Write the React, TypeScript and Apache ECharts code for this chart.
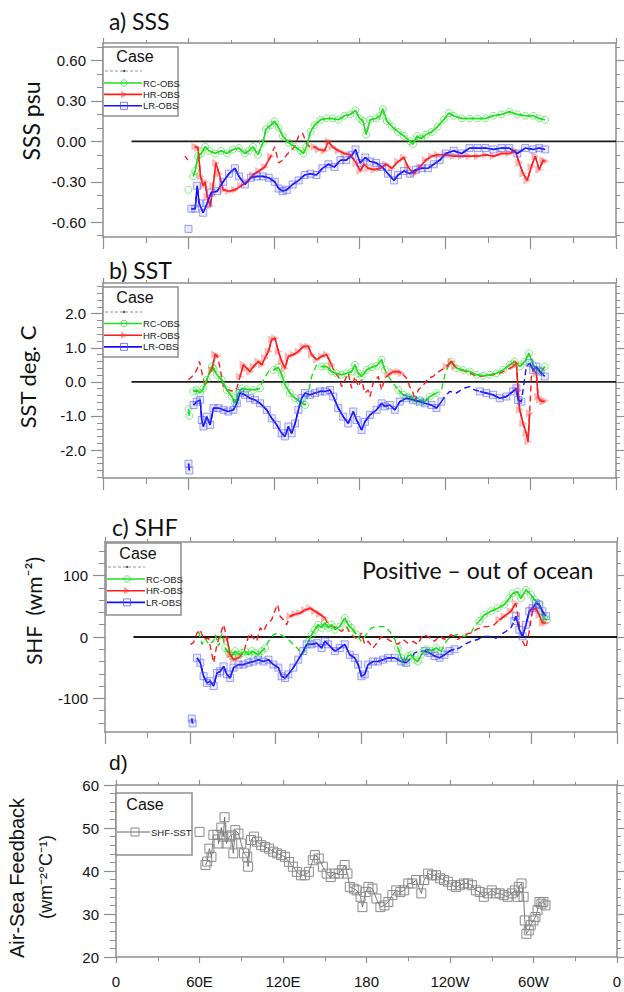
import React, { useEffect, useRef } from 'react';
import * as echarts from 'echarts';

// ---------- shared axis data ----------
const LON_TICKS = [0, 60, 120, 180, 240, 300, 360];
const LON_LABELS = ['0', '60E', '120E', '180', '120W', '60W', '0'];
const ZERO_LINE = [[20, 0], [360, 0]];

// ---------- a) SSS (psu) ----------
const sssRC = [[60,-0.36],[61,null],[63.3,-0.26],[64.7,-0.22],[66.7,-0.11],[68.9,-0.09],[71.7,-0.04],[74.5,-0.07],[78.7,-0.09],[82.9,-0.07],[87,-0.09],[91.2,-0.06],[95.4,-0.05],[99.6,-0.09],[102.4,-0.07],[105.2,-0.04],[108.8,-0.1],[112.2,-0.01],[114.4,0.09],[117.7,0.12],[120.5,0.15],[123.3,0.1],[126.1,0.04],[130.3,-0.01],[134.5,-0.04],[138.7,-0.07],[140.6,-0.09],[142.8,-0.04],[145.6,0.07],[148.4,0.12],[152.6,0.16],[156.8,0.17],[161,0.17],[165.2,0.16],[169.4,0.19],[173.5,0.2],[177.2,0.23],[180,0.17],[182.5,0.15],[184.7,0.05],[187.5,0.16],[191.7,0.17],[194.5,0.19],[196.4,0.24],[199.2,0.15],[202.8,0.11],[207,0.07],[211.2,0.04],[215.4,0],[217.6,-0.02],[220.4,0.04],[223.2,0.02],[226.5,0.05],[230.7,0.07],[234.9,0.11],[239.1,0.16],[242.7,0.21],[246.1,0.19],[251.7,0.17],[257.2,0.17],[262.8,0.17],[268.4,0.17],[274,0.19],[279.6,0.2],[285.1,0.22],[290.7,0.2],[296.3,0.19],[301.9,0.19],[306.1,0.17],[310.3,0.16]];
const sssHR = [[57.5,-0.11],[59.5,-0.14],[61,null],[64.7,-0.04],[66.7,-0.05],[68.4,-0.26],[70.3,-0.33],[71.7,-0.3],[73.1,-0.41],[75.3,-0.48],[77.3,-0.33],[79.2,-0.16],[81.5,-0.24],[84.3,-0.36],[88.4,-0.37],[92.6,-0.36],[96.8,-0.33],[101,-0.3],[105.2,-0.25],[109.4,-0.22],[113.6,-0.19],[117.7,-0.11],[120.5,-0.04],[123.3,-0.16],[126.1,-0.14],[128.9,-0.1],[131.7,-0.07],[134.5,-0.04],[137.3,0.04],[140,0.06],[142.8,-0.01],[145.6,-0.05],[148.4,-0.04],[151.2,-0.06],[155.4,-0.07],[158.2,0],[161,-0.04],[165.2,-0.07],[169.4,-0.09],[173.5,-0.1],[177.7,-0.16],[180.5,-0.22],[183.3,-0.17],[186.1,-0.2],[190.3,-0.21],[194.5,-0.2],[198.6,-0.17],[202.8,-0.2],[207,-0.15],[211.2,-0.12],[214,-0.19],[218.2,-0.24],[222.4,-0.19],[226.5,-0.14],[230.7,-0.11],[234.9,-0.1],[240.5,-0.1],[246.1,-0.11],[251.7,-0.11],[257.2,-0.11],[262.8,-0.11],[268.4,-0.1],[274,-0.11],[279.6,-0.09],[285.1,-0.09],[289.3,-0.07],[292.1,-0.16],[294.9,-0.24],[297.7,-0.29],[300.5,-0.19],[303.3,-0.11],[306.1,-0.21],[308.9,-0.14],[310.3,-0.15]];
const sssLR = [[60,-0.65],[61,null],[62,-0.5],[64.7,-0.5],[66.1,-0.33],[67.5,-0.46],[70.3,-0.53],[73.1,-0.46],[75.9,-0.38],[80.1,-0.37],[84.3,-0.3],[88.4,-0.24],[92.6,-0.2],[95.4,-0.26],[99.6,-0.32],[103.8,-0.27],[108,-0.26],[112.2,-0.26],[116.3,-0.27],[120.5,-0.3],[123.3,-0.35],[126.1,-0.37],[128.9,-0.36],[133.1,-0.32],[137.3,-0.29],[141.5,-0.25],[145.6,-0.24],[149.8,-0.25],[154,-0.2],[158.2,-0.17],[162.4,-0.19],[166.6,-0.14],[170.7,-0.14],[174.9,-0.1],[177.2,-0.06],[180.5,-0.16],[184.1,-0.12],[187.5,-0.15],[191.7,-0.16],[195.9,-0.19],[200,-0.24],[204.2,-0.29],[207,-0.25],[211.2,-0.22],[215.4,-0.24],[219.6,-0.21],[223.8,-0.2],[228,-0.2],[232.1,-0.17],[236.3,-0.14],[240.5,-0.09],[246.1,-0.07],[251.7,-0.09],[257.2,-0.05],[262.8,-0.05],[268.4,-0.05],[274,-0.06],[279.6,-0.05],[285.1,-0.05],[290.7,-0.09],[296.3,-0.05],[301.9,-0.06],[306.1,-0.05],[310.3,-0.06]];
const sssRCSolid = [[55, 320]];
const sssHRSolid = [[63, 119], [146, 320]];
const sssLRSolid = [[55, 320]];

// ---------- b) SST (deg C) ----------
const sstRC = [[60,-0.8],[60.6,-1.0],[61.5,null],[63.5,-0.28],[65.8,-0.24],[68.2,-0.33],[70.5,-0.19],[72.8,0.06],[76.4,0.45],[77.5,0.4],[79.9,0.21],[83.4,0.06],[86.9,-0.24],[90.4,-0.43],[92.7,-0.63],[95,-0.33],[97.4,-0.19],[100.9,-0.22],[105.6,-0.24],[110.2,-0.19],[112.6,0.06],[116.1,0.3],[119.6,0.35],[123.1,0.43],[125.4,0.21],[127.7,-0.09],[131.2,-0.33],[134.8,-0.48],[138.3,-0.58],[141.8,-0.68],[144.1,-0.33],[146.4,0.16],[149.9,0.5],[153.4,0.45],[156.9,0.45],[160.4,0.3],[164,0.25],[167.5,0.21],[171,0.25],[174.5,0.3],[176.8,0.5],[179.1,0.25],[181.5,0.16],[185,0.35],[188.5,0.43],[192,0.47],[195.5,0.65],[197.8,0.35],[200.2,0.16],[203.7,-0.04],[207.2,-0.24],[210.7,-0.38],[214.2,-0.43],[217.7,-0.48],[220,-0.58],[222.4,-0.53],[225.9,-0.58],[229.4,-0.43],[234,-0.33],[237.5,-0.24],[239.9,0.21],[242.2,0.45],[244.5,0.6],[248,0.4],[252.7,0.35],[257.4,0.3],[262.1,0.21],[266.7,0.18],[271.4,0.21],[276.1,0.25],[280.8,0.35],[285.4,0.5],[288.9,0.6],[292.4,0.45],[296,0.6],[299,0.84],[301.8,0.5],[305.3,0.35],[307.6,0.3],[310,0.45]];
const sstHR = [[60,0.06],[63.5,0.2],[65.8,0.35],[67.7,0.6],[69.3,0.3],[71.7,-0.14],[74,0.2],[76.4,0.35],[78.7,0.8],[80.3,0.75],[82.2,0.4],[84.5,-0.14],[88,-0.24],[91.5,-0.28],[93.9,-0.19],[96.2,0.16],[98.5,0.5],[100.9,0.4],[103.2,0.3],[105.6,0.45],[109,0.6],[111.4,0.5],[113.7,0.7],[116.1,0.9],[118.4,1.24],[120.7,1.28],[123.1,0.89],[125.4,0.6],[127.7,0.4],[130.1,0.75],[133.6,0.8],[137.1,0.89],[140.6,1.04],[144.1,1.04],[146.4,0.8],[149.9,0.65],[153.4,0.75],[156.9,0.8],[160.4,0.5],[162.8,0.25],[165.1,0.16],[167.5,-0.14],[169.8,0.06],[172.1,0.25],[174.5,-0.19],[176.8,0.16],[179.1,-0.14],[181.5,0.06],[183.8,-0.33],[186.1,-0.24],[187.3,-0.43],[189.6,-0.04],[193.2,0.16],[195.5,-0.24],[197.8,0.11],[200.2,0.21],[203.7,0.3],[207.2,0.3],[209.5,0.25],[213,0.11],[215.3,-0.14],[217.7,-0.33],[218.8,-0.58],[221.2,-0.24],[223.5,-0.14],[225.9,-0.04],[228.2,0.11],[231.7,0.16],[234,0.25],[237.5,0.35],[241,0.45],[244.5,0.6],[246.9,0.45],[250.4,0.35],[255.1,0.3],[259.7,0.21],[264.4,0.16],[269.1,0.18],[273.7,0.21],[278.4,0.25],[283.1,0.35],[287.8,0.45],[290.1,0.55],[291.3,-0.24],[292.4,-0.82],[294.8,-1.22],[297.1,-1.51],[298.3,-1.75],[299.4,-0.92],[300.6,0.16],[301.8,0.35],[304.1,0.25],[305.3,-0.43],[306.5,-0.53],[308.8,-0.58],[310,-0.55]];
const sstLR = [[60,-2.4],[60.6,-2.6],[61.5,null],[63.5,-0.68],[65.8,-0.58],[68.2,-0.53],[69.3,-1.12],[70.5,-1.31],[72.8,-1.02],[75.2,-1.26],[77.5,-0.77],[81,-0.77],[84.5,-0.82],[88,-0.87],[91.5,-0.82],[93.9,-0.63],[96.2,-0.33],[99.7,-0.38],[103.2,-0.48],[106.7,-0.53],[110.2,-0.63],[114.9,-0.82],[118.4,-1.07],[121.9,-1.26],[125.4,-1.51],[127.7,-1.6],[130.1,-1.31],[132.4,-1.51],[134.8,-1.22],[137.1,-0.82],[139.4,-0.48],[141.8,-0.33],[145.3,-0.38],[148.8,-0.33],[152.3,-0.28],[155.8,-0.28],[159.3,-0.24],[161.6,-0.43],[165.1,-0.77],[168.6,-1.02],[172.1,-1.22],[175.6,-0.87],[178,-1.12],[181.5,-1.41],[183.8,-1.17],[187.3,-0.97],[192,-0.82],[195.5,-0.63],[197.8,-0.72],[201.3,-0.68],[204.8,-0.82],[208.3,-0.58],[213,-0.48],[217.7,-0.53],[222.4,-0.58],[225.9,-0.63],[230.5,-0.68],[234,-0.77],[237.5,-0.58],[239.9,-0.43],[243.3,-0.28],[248,-0.33],[252.7,-0.19],[257.4,-0.14],[260.9,-0.24],[264.4,-0.28],[269.1,-0.33],[273.7,-0.38],[278.4,-0.48],[283.1,-0.43],[287.8,-0.28],[290.1,-0.19],[291.3,-0.53],[293.6,-0.58],[297.1,0.45],[299.4,0.55],[301.8,0.35],[304.1,0.45],[306.5,0.3],[310,0.16]];
const sstRCSolid = [[55, 112], [118, 144], [150, 200], [207, 237], [243, 320]];
const sstHRSolid = [[76, 82], [96, 162], [200, 212], [238, 248], [286, 300], [304, 320]];
const sstLRSolid = [[55, 238], [262, 294], [299, 320]];

// ---------- c) SHF (W m-2) ----------
const shfRC = [[65.8,9],[68.2,-12],[70.5,-2],[72.8,-12],[76.4,-7],[77.5,4],[79.9,-15],[82.2,6],[84.5,-18],[86.9,-26],[89.2,-31],[91.5,-23],[93.9,-29],[96.2,-26],[98.5,-23],[100.9,-29],[103.2,-23],[105.6,-26],[107.9,-29],[110.2,-23],[112.6,-18],[114.9,-7],[118.4,4],[121.9,6.5],[125.4,1],[128.9,-4],[132.4,-12],[135.9,-20],[138.3,-29],[140.6,-23],[143,-7],[145.3,4],[147.6,12],[149.9,20],[152.3,15],[154.6,23],[156.9,15],[159.3,20],[161.6,12],[165.1,17],[168.6,31],[171,20],[173.3,15],[176.8,4],[180.3,-7],[183.8,4],[187.3,15],[192,17],[196.7,17],[200.2,9],[203.7,-4],[206,-18],[208.3,-34],[210.7,-42],[213,-31],[215.3,-29],[217.7,-37],[220,-40],[222.4,-29],[225.9,-20],[229.4,-23],[232.9,-18],[236.4,-23],[239.9,-7],[243.4,1],[248,4],[252.7,1],[257.4,6.5],[259.7,17],[263.2,26],[266.7,36],[271.4,42],[276.1,47],[280.8,53],[284.3,63],[286.6,71],[290.1,74],[292.4,63],[296,77],[299.4,69],[301.8,61],[305.3,53],[308.8,31],[310.7,28]];
const shfHR = [[60,-12],[62.3,-9],[64.7,6.5],[67,12],[69.3,-4],[72.8,-2],[76.4,-42],[78.7,-12],[81,4],[83.4,20],[85.7,-2],[88,-29],[90.4,-37],[93.9,-34],[97.4,-26],[99.7,-7],[102,6.5],[104.4,-2],[106.7,-7],[109.1,15],[111.4,9],[113.7,20],[117.2,28],[119.6,44],[121.4,53],[123.1,34],[125.4,28],[127.7,20],[130.1,34],[133.6,37],[137.1,39],[140.6,44],[144.1,47],[147.6,42],[151.1,37],[154.6,31],[156.9,20],[160.4,17],[162.8,15],[166.3,9],[169.8,17],[172.1,6.5],[174.5,1],[178,-4],[180.3,6.5],[182.6,-12],[185,-7],[188.5,-18],[192,-7],[194.3,1],[197.8,-2],[201.3,-7],[206,-12],[209.5,-4],[213,-10],[216.5,-7],[220,-12],[223.5,4],[226.9,1],[231.7,-7],[235.2,1],[238.7,-4],[243.4,4],[248,-4],[252.7,4],[257.4,6.5],[260.9,12],[265.6,17],[269.1,17],[273.7,20],[277.2,28],[280.8,34],[285.4,42],[288.9,55],[291.3,20],[293.6,-7],[296,-18],[298.3,9],[300.6,44],[303,47],[305.3,36],[307.6,23],[310,23]];
const shfLR = [[61,-133],[61.6,-141],[62.5,null],[64.7,-34],[67,-42],[69.3,-64],[71.7,-75],[74,-72],[76.4,-80],[78.7,-59],[81,-56],[83.4,-48],[85.7,-61],[88,-67],[90.4,-50],[93.9,-45],[97.4,-45],[100.9,-42],[104.4,-40],[107.9,-37],[111.4,-40],[114.9,-37],[118.4,-45],[121.9,-50],[124.2,-64],[126.6,-67],[128.9,-61],[132.4,-50],[135.9,-37],[139.4,-23],[141.8,-12],[145.3,-12],[148.8,-10],[152.3,-18],[154.6,-7],[156.9,-12],[161.6,-23],[165.1,-18],[168.6,-12],[172.1,-29],[175.6,-34],[178,-45],[180.3,-64],[182.6,-61],[185,-45],[188.5,-40],[192,-40],[195.5,-37],[199,-34],[203.7,-34],[208.3,-40],[211.8,-42],[215.3,-34],[217.7,-26],[221.2,-23],[224.7,-23],[228.2,-26],[231.7,-31],[235.2,-34],[238.7,-29],[242.2,-23],[245.7,-20],[249.2,-18],[252.7,-12],[257.4,-7],[262.1,-4],[266.7,1],[271.4,1],[274.9,-2],[278.4,4],[281.9,9],[285.4,15],[287.8,26],[288.9,34],[291.3,12],[293.6,1],[296,20],[298.3,42],[300.6,47],[303,55],[305.3,53],[307.6,42],[310,34]];
const shfRCSolid = [[84, 113], [143, 178], [206, 237], [260, 320]];
const shfHRSolid = [[85, 97], [129, 156], [277, 290], [300, 320]];
const shfLRSolid = [[55, 214], [222, 247], [287, 320]];

// ---------- d) Air-sea feedback ----------
const feedback = [[60,49.1],[62,null],[64.3,41.4],[65.5,42.2],[67.1,45.2],[68.6,43.3],[70,48.4],[72.9,48.4],[73.7,46.4],[75.7,50.1],[77.1,48],[78,52.5],[79.4,46.4],[81.4,48],[82.9,48.3],[84.3,44.1],[85.7,49.5],[88,48.7],[90,46.4],[92,44.1],[94.3,43.3],[94.9,41],[97.1,47.2],[99.1,48],[101.4,46.8],[104.3,46],[107.1,45.6],[110,45.2],[112.9,44.5],[115.7,44.1],[118.6,43.7],[121.4,43.3],[124.3,42.1],[127.1,41],[130,39.8],[132.9,39],[135.7,39],[138.6,39.8],[141.4,42.5],[142.9,43.7],[145.7,42.9],[148.6,41],[151.4,39.4],[154.3,38.6],[157.1,39.4],[160,39.4],[162.3,40.2],[164.3,41.4],[166.3,39.4],[168,36.3],[170.9,35.9],[172.9,35.5],[175.7,34],[177.1,31.6],[179.4,35.1],[181.4,36.3],[184.3,35.9],[187.1,33.6],[190,31.6],[192.9,32],[195.7,32.8],[198.6,34.4],[201.4,35.5],[204.3,35.1],[207.1,35.5],[210,37.1],[212.9,37.1],[215.7,37.9],[219.4,34.8],[221.4,37.9],[224.3,39.4],[227.1,39],[230,39],[232.9,38.3],[235.7,37.9],[238.6,37.5],[241.4,36.7],[244.3,36.3],[247.1,36.7],[250,37.1],[252.9,37.1],[255.7,36.7],[258.6,35.5],[261.4,35.1],[264.3,34],[267.1,34.8],[270,35.5],[272.9,34.8],[275.7,34.8],[278.6,34.4],[281.4,34],[284.3,34.8],[286.6,35.5],[288.6,34],[289.4,36.3],[291.4,37.1],[292.9,34],[293.7,28.5],[294.9,25.4],[296.6,26.2],[298,27.4],[300,28.5],[301.4,29.3],[302.9,30.9],[304.3,32.8],[305.7,32.4],[307.1,32.8],[308.6,32]];

// ---------- y tick values ----------
const sssMajor = [-0.6, -0.3, 0, 0.3, 0.6];
const sssMinor = [-0.7, -0.5, -0.4, -0.2, -0.1, 0.1, 0.2, 0.4, 0.5, 0.7];
const sstMajor = [-2, -1, 0, 1, 2];
const sstMinor = [-2.8, -2.6, -2.4, -2.2, -1.8, -1.6, -1.4, -1.2, -0.8, -0.6, -0.4, -0.2, 0.2, 0.4, 0.6, 0.8, 1.2, 1.4, 1.6, 1.8, 2.2, 2.4, 2.6, 2.8];
const shfMajor = [-100, 0, 100];
const shfMinor = [-140, -120, -80, -60, -40, -20, 20, 40, 60, 80, 120, 140];
const fbMajor = [20, 30, 40, 50, 60];
const fbMinor = [22, 24, 26, 28, 32, 34, 36, 38, 42, 44, 46, 48, 52, 54, 56, 58];

const CASE_LABELS = ['RC-OBS', 'HR-OBS', 'LR-OBS'];
const GREEN = '#1fe01f';
const RED = '#ff1c1c';
const BLUE = '#1010ff';
const GRAY = '#8e8e8e';
const NUM_FONT = '"Liberation Sans", Arial, Helvetica, sans-serif';
const TITLE_FONT = 'Lato, "Open Sans", sans-serif';

const MARK = {
  green: { symbol: 'circle', symbolSize: 7, itemStyle: { color: 'rgba(0,0,0,0)', borderColor: 'rgba(30,220,30,0.55)', borderWidth: 1 } },
  red: { symbol: 'triangle', symbolSize: 7, symbolRotate: -90, itemStyle: { color: 'rgba(255,50,50,0.32)', borderColor: 'rgba(255,60,60,0.35)', borderWidth: 0.5 } },
  blue: { symbol: 'rect', symbolSize: 7, itemStyle: { color: 'rgba(90,90,255,0.12)', borderColor: 'rgba(70,70,255,0.5)', borderWidth: 1 } },
};

function inRanges(x, ranges) {
  return ranges.some(([a, b]) => x >= a && x <= b);
}

function buildAxes(gridIndex, cfg, xs, ys) {
  const xMain = xs.length;
  xs.push({
    type: 'value', gridIndex, min: 0, max: 360, interval: 60, position: 'bottom',
    axisLine: { show: true, onZero: false, lineStyle: { color: GRAY, width: 1.5 } },
    axisTick: { show: true, inside: false, length: cfg.xTick, lineStyle: { color: GRAY, width: 1.2 } },
    minorTick: { show: true, splitNumber: 2, length: cfg.xMinor, lineStyle: { color: GRAY, width: 1 } },
    axisLabel: {
      show: cfg.xLabels, margin: 17, fontSize: 15, color: '#111', fontFamily: NUM_FONT,
      formatter: (v) => { const i = LON_TICKS.indexOf(v); return i >= 0 ? LON_LABELS[i] : ''; },
    },
    splitLine: { show: false }, minorSplitLine: { show: false },
  });
  xs.push({
    type: 'value', gridIndex, min: 0, max: 360, interval: 60, position: 'top',
    axisLine: { show: true, onZero: false, lineStyle: { color: GRAY, width: 1.5 } },
    axisTick: { show: true, inside: false, length: 5, lineStyle: { color: GRAY, width: 1.2 } },
    minorTick: { show: true, splitNumber: 2, length: 3, lineStyle: { color: GRAY, width: 1 } },
    axisLabel: { show: false }, splitLine: { show: false }, minorSplitLine: { show: false },
  });
  const yMain = ys.length;
  const base = { type: 'value', gridIndex, min: cfg.min, max: cfg.max, splitLine: { show: false } };
  ys.push({
    ...base, position: 'left',
    axisLine: { show: true, onZero: false, lineStyle: { color: GRAY, width: 1.5 } },
    axisTick: { show: true, inside: false, customValues: cfg.major, length: 12, lineStyle: { color: GRAY, width: 1.2 } },
    axisLabel: { show: true, customValues: cfg.major, formatter: cfg.fmt, margin: cfg.labelMargin, fontSize: 15, color: '#111', fontFamily: NUM_FONT },
  });
  ys.push({
    ...base, position: 'left',
    axisLine: { show: false, onZero: false },
    axisTick: { show: true, inside: false, customValues: cfg.minor, length: 6, lineStyle: { color: GRAY, width: 1 } },
    axisLabel: { show: false },
  });
  ys.push({
    ...base, position: 'right',
    axisLine: { show: true, onZero: false, lineStyle: { color: GRAY, width: 1.5 } },
    axisTick: { show: true, inside: false, customValues: cfg.major, length: 8, lineStyle: { color: GRAY, width: 1.2 } },
    axisLabel: { show: false },
  });
  ys.push({
    ...base, position: 'right',
    axisLine: { show: false, onZero: false },
    axisTick: { show: true, inside: false, customValues: cfg.minor, length: 4, lineStyle: { color: GRAY, width: 1 } },
    axisLabel: { show: false },
  });
  return { xMain, yMain };
}

function caseSeries(data, solid, color, mark, xi, yi) {
  return [
    {
      type: 'line', xAxisIndex: xi, yAxisIndex: yi, data, showSymbol: false, symbol: 'none',
      connectNulls: false, silent: true, z: 3, emphasis: { disabled: true },
      lineStyle: { color, width: 1.4, type: [6, 4] },
    },
    {
      type: 'line', xAxisIndex: xi, yAxisIndex: yi,
      data: data.map((p) => (p[1] !== null && inRanges(p[0], solid) ? p : [p[0], null])),
      showSymbol: true, showAllSymbol: true, connectNulls: false, silent: true, z: 4,
      emphasis: { disabled: true },
      ...mark,
      lineStyle: { color, width: 1.6 },
    },
  ];
}

function zeroSeries(xi, yi) {
  return {
    type: 'line', xAxisIndex: xi, yAxisIndex: yi, data: ZERO_LINE, symbol: 'none', silent: true, z: 2,
    lineStyle: { color: '#1a1a1a', width: 1.8 }, emphasis: { disabled: true },
  };
}

function legendGroup(box, rows, markers) {
  const els = [];
  els.push({ type: 'rect', shape: { x: box.x, y: box.y, width: box.w, height: box.h }, style: { fill: '#fff', stroke: GRAY, lineWidth: 1.5 }, z: 10 });
  els.push({ type: 'text', x: box.caseX, y: box.caseY, style: { text: 'Case', fontSize: 16, fontFamily: NUM_FONT, fill: '#111', align: 'center', verticalAlign: 'middle' }, z: 11 });
  if (box.dashY) {
    els.push({ type: 'line', shape: { x1: box.x + 2, y1: box.dashY, x2: box.x + 39, y2: box.dashY }, style: { stroke: '#777', lineWidth: 0.8, lineDash: [3, 2] }, z: 11 });
    els.push({ type: 'circle', shape: { cx: box.x + 21, cy: box.dashY, r: 1 }, style: { fill: '#333' }, z: 11 });
  }
  rows.forEach((r, i) => {
    const m = markers[i];
    els.push({ type: 'line', shape: { x1: box.x + 1, y1: r.y, x2: box.lineEnd, y2: r.y }, style: { stroke: m.color, lineWidth: 1.6 }, z: 11 });
    const cx = box.markX, cy = r.y;
    if (m.kind === 'circle') els.push({ type: 'circle', shape: { cx, cy, r: 3.2 }, style: { fill: 'none', stroke: 'rgba(30,220,30,0.7)', lineWidth: 1 }, z: 12 });
    if (m.kind === 'tri') els.push({ type: 'polygon', shape: { points: [[cx - 3, cy - 3.5], [cx + 4, cy], [cx - 3, cy + 3.5]] }, style: { fill: 'rgba(255,60,60,0.5)' }, z: 12 });
    if (m.kind === 'square') els.push({ type: 'rect', shape: { x: cx - m.s / 2, y: cy - m.s / 2, width: m.s, height: m.s }, style: { fill: 'none', stroke: m.stroke, lineWidth: 1 }, z: 12 });
    els.push({ type: 'text', x: box.lineEnd + 1, y: r.y, style: { text: r.label, fontSize: 9.5, fontFamily: NUM_FONT, fill: '#222', verticalAlign: 'middle' }, z: 12 });
  });
  return els;
}

function buildOption() {
  const xs = [];
  const ys = [];
  const grids = [
    { left: 103, top: 43, width: 513, height: 194 },
    { left: 103, top: 283, width: 513, height: 195 },
    { left: 105, top: 542, width: 512, height: 190 },
    { left: 116, top: 785, width: 501, height: 172 },
  ].map((g) => ({ ...g, containLabel: false, outerBoundsMode: 'none', show: false }));

  const a = buildAxes(0, { min: -0.71, max: 0.73, major: sssMajor, minor: sssMinor, fmt: (v) => v.toFixed(2), labelMargin: 17, xTick: 12, xMinor: 6, xLabels: false }, xs, ys);
  const b = buildAxes(1, { min: -2.82, max: 2.9, major: sstMajor, minor: sstMinor, fmt: (v) => v.toFixed(1), labelMargin: 17, xTick: 12, xMinor: 6, xLabels: false }, xs, ys);
  const c = buildAxes(2, { min: -155, max: 155, major: shfMajor, minor: shfMinor, fmt: (v) => String(v), labelMargin: 17, xTick: 12, xMinor: 6, xLabels: false }, xs, ys);
  const d = buildAxes(3, { min: 20, max: 60, major: fbMajor, minor: fbMinor, fmt: (v) => String(v), labelMargin: 17, xTick: 6, xMinor: 4, xLabels: true }, xs, ys);

  const series = [
    zeroSeries(a.xMain, a.yMain),
    ...caseSeries(sssRC, sssRCSolid, GREEN, MARK.green, a.xMain, a.yMain),
    ...caseSeries(sssHR, sssHRSolid, RED, MARK.red, a.xMain, a.yMain),
    ...caseSeries(sssLR, sssLRSolid, BLUE, MARK.blue, a.xMain, a.yMain),
    zeroSeries(b.xMain, b.yMain),
    ...caseSeries(sstRC, sstRCSolid, GREEN, MARK.green, b.xMain, b.yMain),
    ...caseSeries(sstHR, sstHRSolid, RED, MARK.red, b.xMain, b.yMain),
    ...caseSeries(sstLR, sstLRSolid, BLUE, MARK.blue, b.xMain, b.yMain),
    zeroSeries(c.xMain, c.yMain),
    ...caseSeries(shfRC, shfRCSolid, GREEN, MARK.green, c.xMain, c.yMain),
    ...caseSeries(shfHR, shfHRSolid, RED, MARK.red, c.xMain, c.yMain),
    ...caseSeries(shfLR, shfLRSolid, BLUE, MARK.blue, c.xMain, c.yMain),
    {
      type: 'line', xAxisIndex: d.xMain, yAxisIndex: d.yMain, data: feedback, connectNulls: false,
      showSymbol: true, showAllSymbol: true, symbol: 'rect', symbolSize: 9, silent: true,
      emphasis: { disabled: true },
      itemStyle: { color: 'rgba(255,255,255,0)', borderColor: '#8a8a8a', borderWidth: 1 },
      lineStyle: { color: '#555', width: 0.8 },
    },
  ];

  const caseMarkers = [
    { kind: 'circle', color: GREEN },
    { kind: 'tri', color: RED },
    { kind: 'square', color: BLUE, s: 7, stroke: 'rgba(70,70,255,0.7)' },
  ];
  const rowsFor = (ys0, dy) => CASE_LABELS.map((label, i) => ({ label, y: ys0 + i * dy }));

  const graphic = [
    { type: 'text', x: 109, y: 21, style: { text: 'a) SSS', fontSize: 23, fontFamily: TITLE_FONT, fill: '#111', verticalAlign: 'middle' } },
    { type: 'text', x: 109, y: 270, style: { text: 'b) SST', fontSize: 23, fontFamily: TITLE_FONT, fill: '#111', verticalAlign: 'middle' } },
    { type: 'text', x: 112, y: 527, style: { text: 'c) SHF', fontSize: 23, fontFamily: TITLE_FONT, fill: '#111', verticalAlign: 'middle' } },
    { type: 'text', x: 109, y: 762, style: { text: 'd)', fontSize: 21, fontFamily: NUM_FONT, fill: '#111', verticalAlign: 'middle' } },
    { type: 'text', x: 31, y: 121, rotation: Math.PI / 2, style: { text: 'SSS psu', fontSize: 23, fontFamily: TITLE_FONT, fill: '#111', align: 'center', verticalAlign: 'middle' } },
    { type: 'text', x: 27, y: 377, rotation: Math.PI / 2, style: { text: 'SST deg. C', fontSize: 22, fontFamily: TITLE_FONT, fill: '#111', align: 'center', verticalAlign: 'middle' } },
    { type: 'text', x: 33, y: 611, rotation: Math.PI / 2, style: { text: 'SHF  (wm⁻²)', fontSize: 21, fontFamily: TITLE_FONT, fill: '#111', align: 'center', verticalAlign: 'middle' } },
    { type: 'text', x: 17, y: 878, rotation: Math.PI / 2, style: { text: 'Air-Sea Feedback', fontSize: 20, fontFamily: NUM_FONT, fill: '#111', align: 'center', verticalAlign: 'middle' } },
    { type: 'text', x: 46, y: 877, rotation: Math.PI / 2, style: { text: '(wm⁻²°C⁻¹)', fontSize: 18, fontFamily: NUM_FONT, fill: '#111', align: 'center', verticalAlign: 'middle' } },
    { type: 'text', x: 362, y: 570, style: { text: 'Positive – out of ocean', fontSize: 23, fontFamily: TITLE_FONT, fill: '#111', verticalAlign: 'middle' } },
    ...legendGroup({ x: 103, y: 47, w: 75, h: 69, caseX: 135, caseY: 56, dashY: 71, lineEnd: 142, markX: 124 }, rowsFor(83, 11.4), caseMarkers),
    ...legendGroup({ x: 103, y: 287, w: 75, h: 70, caseX: 135, caseY: 297, dashY: 312, lineEnd: 142, markX: 124 }, rowsFor(323.5, 11.7), caseMarkers),
    ...legendGroup({ x: 106, y: 543, w: 75, h: 72, caseX: 138, caseY: 553, dashY: 567, lineEnd: 145, markX: 127 }, rowsFor(579, 11.7), caseMarkers),
    ...legendGroup({ x: 116, y: 793, w: 76, h: 62, caseX: 145, caseY: 804, dashY: 0, lineEnd: 150, markX: 135 }, [{ label: 'SHF-SST', y: 832 }], [{ kind: 'square', color: '#999', s: 8, stroke: '#888' }]),
  ];

  return {
    animation: false,
    backgroundColor: '#fff',
    grid: grids,
    xAxis: xs,
    yAxis: ys,
    series,
    graphic,
  };
}

export default function App() {
  const ref = useRef(null);
  useEffect(() => {
    const chart = echarts.init(ref.current, null, { renderer: 'svg' });
    chart.setOption(buildOption());
    return () => chart.dispose();
  }, []);
  return (
    <div
      ref={ref}
      style={{ position: 'fixed', left: 0, top: 0, width: 624, height: 992, background: '#fff' }}
    />
  );
}
